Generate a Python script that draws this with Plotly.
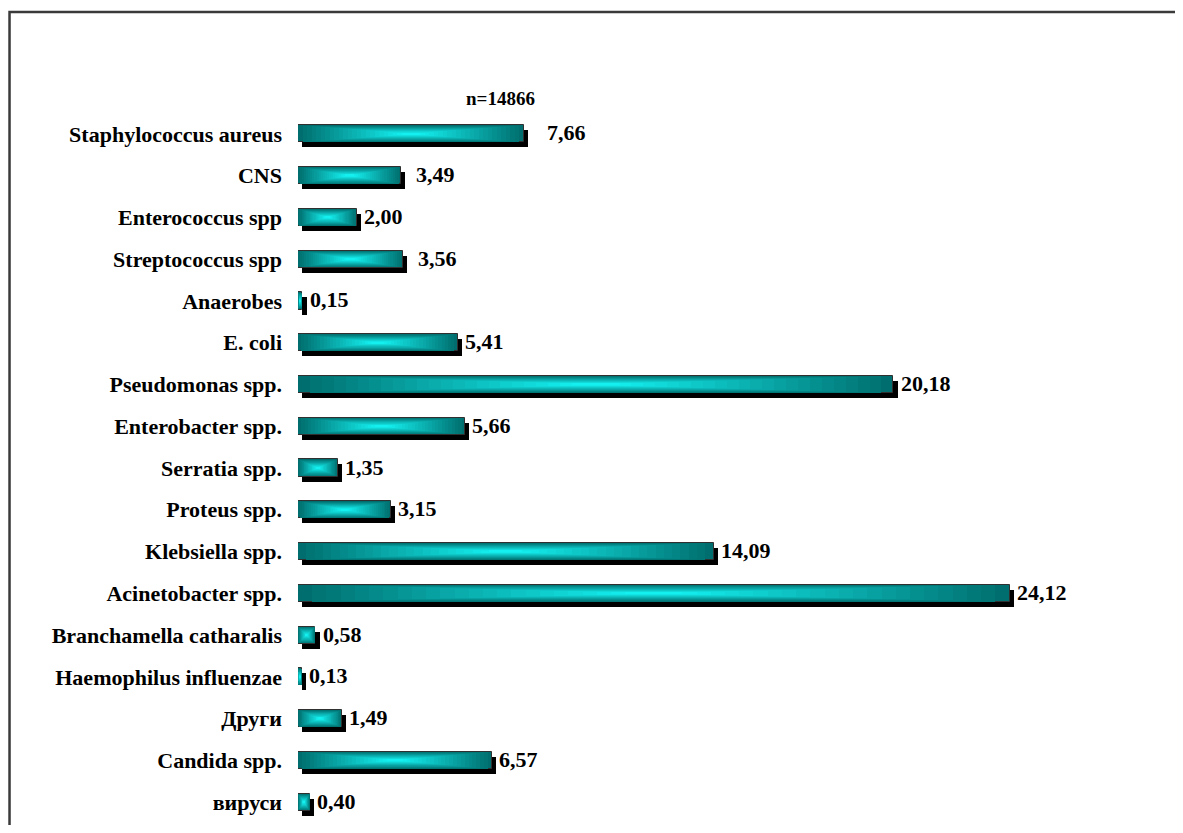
import plotly.graph_objects as go

categories = [
    "Staphylococcus aureus", "CNS", "Enterococcus spp", "Streptococcus spp",
    "Anaerobes", "E. coli", "Pseudomonas spp.", "Enterobacter spp.",
    "Serratia spp.", "Proteus spp.", "Klebsiella spp.", "Acinetobacter spp.",
    "Branchamella catharalis", "Haemophilus influenzae", "Други",
    "Candida spp.", "вируси",
]
values = [7.66, 3.49, 2.00, 3.56, 0.15, 5.41, 20.18, 5.66, 1.35, 3.15,
          14.09, 24.12, 0.58, 0.13, 1.49, 6.57, 0.40]
title_text = "n=14866"

# ---- styling ----
FONT = "Times New Roman, Liberation Serif, serif"
BAR_W = 0.41          # bar thickness (category units)
SHADOW_DY = 0.12      # shadow shift down (category units)
SHADOW_DX = 0.15      # shadow shift right (value units)
N_LAYERS = 24
OUTER = (0, 110, 110)
INNER = (20, 240, 240)
extra_gap = {"Staphylococcus aureus": 16, "CNS": 8, "Streptococcus spp": 8}

fig = go.Figure()

# shadow
fig.add_trace(go.Bar(
    y=categories, x=values, base=[SHADOW_DX] * len(values), orientation="h",
    width=BAR_W, offset=-BAR_W / 2 + SHADOW_DY,
    marker=dict(color="black", line=dict(width=0)),
    hoverinfo="skip", showlegend=False,
))

# path-gradient body: nested rectangles shrinking toward the centre
for k in range(N_LAYERS):
    t = 0.92 * k / (N_LAYERS - 1)
    c = tuple(int(round(OUTER[i] + (INNER[i] - OUTER[i]) * (k / (N_LAYERS - 1)))) for i in range(3))
    w = BAR_W * (1 - t)
    fig.add_trace(go.Bar(
        y=categories,
        x=[v * (1 - t) for v in values],
        base=[v * t / 2 for v in values],
        orientation="h", width=w, offset=-w / 2,
        marker=dict(color=f"rgb{c}",
                    line=dict(width=1 if k == 0 else 0, color="#303030")),
        hoverinfo="skip", showlegend=False,
    ))

# value labels
for cat, v in zip(categories, values):
    fig.add_annotation(
        x=v + SHADOW_DX, y=cat, xref="x", yref="y",
        text=f"{v:.2f}".replace(".", ","), showarrow=False,
        xanchor="left", xshift=1 + extra_gap.get(cat, 0), yshift=1,
        font=dict(family=FONT, size=22, color="black", weight="bold"),
    )

fig.add_annotation(
    x=6.88, y=1.021, xref="x", yref="paper", text=title_text, showarrow=False,
    xanchor="center", yanchor="middle",
    font=dict(family=FONT, size=19, color="black", weight="bold"),
)

# outer frame
fig.add_shape(type="rect", xref="paper", yref="paper",
              x0=-0.3374, x1=1.1, y0=-0.06, y1=1.1423,
              line=dict(color="#3a3a3a", width=2.5), fillcolor="rgba(0,0,0,0)")

fig.update_layout(
    width=1175, height=817,
    margin=dict(l=290, r=30, t=105, b=2),
    barmode="overlay", bargap=0,
    plot_bgcolor="white", paper_bgcolor="white",
    font=dict(family=FONT, size=22, color="black"),
    showlegend=False,
)
fig.update_xaxes(range=[0, 28.98], visible=False, showgrid=False, zeroline=False)
fig.update_yaxes(
    type="category", categoryorder="array", categoryarray=categories,
    autorange="reversed", showgrid=False, zeroline=False, showline=False,
    ticks="", ticklabelstandoff=15,
    tickfont=dict(family=FONT, size=22, color="black", weight="bold"),
)

fig.write_html("out.html")
